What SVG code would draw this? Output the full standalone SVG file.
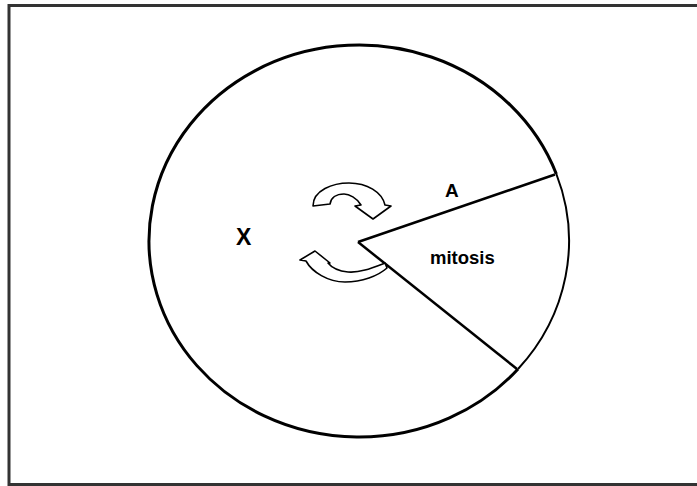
<svg xmlns="http://www.w3.org/2000/svg" width="697" height="486" viewBox="0 0 697 486">
<style>
.lbl{font-family:"Liberation Sans",Arial,sans-serif;font-weight:bold;fill:#000}
.arr{fill:#fff;stroke:#000;stroke-width:1.6;stroke-linejoin:round}
</style>
<rect width="697" height="486" fill="#fff"/>
<path d="M700,5.5 H9 V484.5 H700" fill="none" stroke="#333" stroke-width="3"/>
<g id="cycle">
<path d="M556.35,174 A210,196 0 1 0 518.04,369" fill="none" stroke="#000" stroke-width="3"/>
<path d="M556.35,174 A210,196 0 0 1 518.04,369" fill="none" stroke="#000" stroke-width="2"/>
</g>
<g id="connectors">
<line x1="358" y1="242" x2="555" y2="174.5" stroke="#000" stroke-width="2.5"/>
<line x1="358" y1="242" x2="517" y2="369" stroke="#000" stroke-width="2.5"/>
</g>
<g id="arrow-top">
<path class="arr" d="M313,206 C313,190 333,183 349,183 C367,183 382,192 385,205 L391,206 L373,219 L355,206 L361,205 C357,198 349,194 344,194 C336,194 331,198 330,204 Z"/>
</g>
<g id="arrow-bottom">
<path class="arr" d="M385,263 C372,268 360,273 348,272 C338,271 332,268 328,263 L330,263 L315,251 L300,260 L306,261 C312,272 328,282 345,282 C362,282 378,276 387,268 Z"/>
</g>
<g id="label-X"><text class="lbl" x="236" y="245" font-size="23">X</text></g>
<g id="label-A"><text class="lbl" x="445" y="197" font-size="19">A</text></g>
<g id="label-mitosis"><text class="lbl" x="430" y="264" font-size="18.5">mitosis</text></g>
</svg>
